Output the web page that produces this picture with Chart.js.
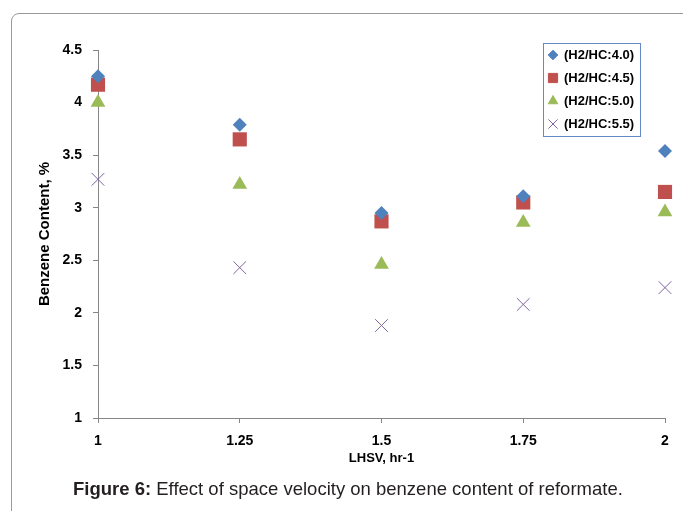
<!DOCTYPE html>
<html>
<head>
<meta charset="utf-8">
<script src="https://cdn.jsdelivr.net/npm/chart.js@4/dist/chart.umd.min.js"></script>
<style>
  html, body { margin: 0; padding: 0; background: #ffffff; }
  #wrap { position: relative; width: 683px; height: 511px; overflow: hidden; }
  #frame { position: absolute; left: 11px; top: 13px; width: 700px; height: 540px;
           border: 1px solid #9a9a9a; border-radius: 8px; box-sizing: border-box; }
  #c { position: absolute; left: 0; top: 0; }
  #caption { position: absolute; left: 73px; top: 478px; white-space: nowrap;
             font-family: "Liberation Sans", Arial, sans-serif; font-size: 18.5px; color: #231f20; }
</style>
</head>
<body>
<div id="wrap">
  <div id="frame"></div>
  <canvas id="c" width="683" height="511"></canvas>
  <div id="caption"><b>Figure 6:</b> Effect of space velocity on benzene content of reformate.</div>
</div>
<script>
// ---- data ----
const lhsv = [1, 1.25, 1.5, 1.75, 2];
const seriesLabels = ['(H2/HC:4.0)', '(H2/HC:4.5)', '(H2/HC:5.0)', '(H2/HC:5.5)'];
const h2hc40 = [4.25, 3.79, 2.95, 3.11, 3.54];
const h2hc45 = [4.17, 3.65, 2.87, 3.05, 3.15];
const h2hc50 = [4.00, 3.22, 2.46, 2.86, 2.96];
const h2hc55 = [3.27, 2.43, 1.88, 2.08, 2.24];
const xTicks = [1, 1.25, 1.5, 1.75, 2];
const yTicks = [1, 1.5, 2, 2.5, 3, 3.5, 4, 4.5];

const seriesValues = [h2hc40, h2hc45, h2hc50, h2hc55];
const styles = [
  { pointStyle: 'rectRot', color: '#4F81BD', r: 7, lr: 4.8 },
  { pointStyle: 'rect', color: '#C0504D', r: 10, lr: 6.5 },
  { pointStyle: 'triangle', color: '#9BBB59', r: 8.5, lr: 5.5 },
  { pointStyle: 'crossRot', color: '#8064A2', r: 9, lr: 6.5 }
];

const datasets = seriesValues.map((vals, i) => ({
  label: seriesLabels[i],
  data: lhsv.map((x, j) => ({ x: x, y: vals[j] })),
  pointStyle: styles[i].pointStyle,
  pointRadius: styles[i].r,
  pointHoverRadius: styles[i].r,
  backgroundColor: styles[i].color,
  borderColor: styles[i].color,
  borderWidth: styles[i].pointStyle === 'crossRot' ? 1 : 0,
  showLine: false,
  clip: false
}));

const legendPlugin = {
  id: 'boxLegend',
  afterDraw(chart) {
    const ctx = chart.ctx;
    ctx.save();
    ctx.strokeStyle = '#6688c4';
    ctx.lineWidth = 1;
    ctx.strokeRect(543.5, 43.5, 97, 93);
    ctx.font = 'bold 13px "Liberation Sans", Arial, sans-serif';
    ctx.textBaseline = 'middle';
    const ys = [55, 78, 101, 124];
    chart.data.datasets.forEach((ds, i) => {
      const st = styles[i];
      ctx.fillStyle = st.color;
      ctx.strokeStyle = st.color;
      ctx.lineWidth = 1;
      Chart.helpers.drawPoint(ctx, { pointStyle: st.pointStyle, radius: st.lr, rotation: 0, borderWidth: 1 }, 553, ys[i]);
      ctx.fillStyle = '#000';
      ctx.fillText(ds.label, 564, ys[i] + 0.5);
    });
    ctx.restore();
  }
};

const tickFont = { family: '"Liberation Sans", Arial, sans-serif', size: 14, weight: 'bold' };
const axisColor = '#868686';
const fmt = v => String(v);

new Chart(document.getElementById('c'), {
  type: 'scatter',
  data: { datasets: datasets },
  options: {
    responsive: false,
    devicePixelRatio: 1,
    animation: false,
    layout: { padding: { left: 0, right: 18, top: 50, bottom: 0 } },
    plugins: { legend: { display: false }, tooltip: { enabled: false } },
    scales: {
      x: {
        type: 'linear', min: 1, max: 2,
        afterBuildTicks(scale) { scale.ticks = xTicks.map(v => ({ value: v })); },
        afterFit(scale) { scale.height = 93; },
        ticks: { font: tickFont, color: '#000', padding: 10, maxRotation: 0, callback: fmt },
        grid: { drawOnChartArea: false, tickLength: 5, color: axisColor },
        border: { color: axisColor },
        title: { display: true, text: 'LHSV, hr-1', font: { family: '"Liberation Sans", Arial, sans-serif', size: 13, weight: 'bold' }, color: '#000', padding: { top: 0, bottom: 45 } }
      },
      y: {
        type: 'linear', min: 1, max: 4.5,
        afterBuildTicks(scale) { scale.ticks = yTicks.map(v => ({ value: v })); },
        afterFit(scale) { scale.width = 98; },
        ticks: { font: tickFont, color: '#000', padding: 11, callback: fmt },
        grid: { drawOnChartArea: false, tickLength: 5, color: axisColor },
        border: { color: axisColor },
        title: { display: true, text: 'Benzene Content, %', font: { family: '"Liberation Sans", Arial, sans-serif', size: 15, weight: 'bold' }, color: '#000', padding: { top: 36, bottom: 0 } }
      }
    }
  },
  plugins: [legendPlugin]
});
</script>
</body>
</html>
